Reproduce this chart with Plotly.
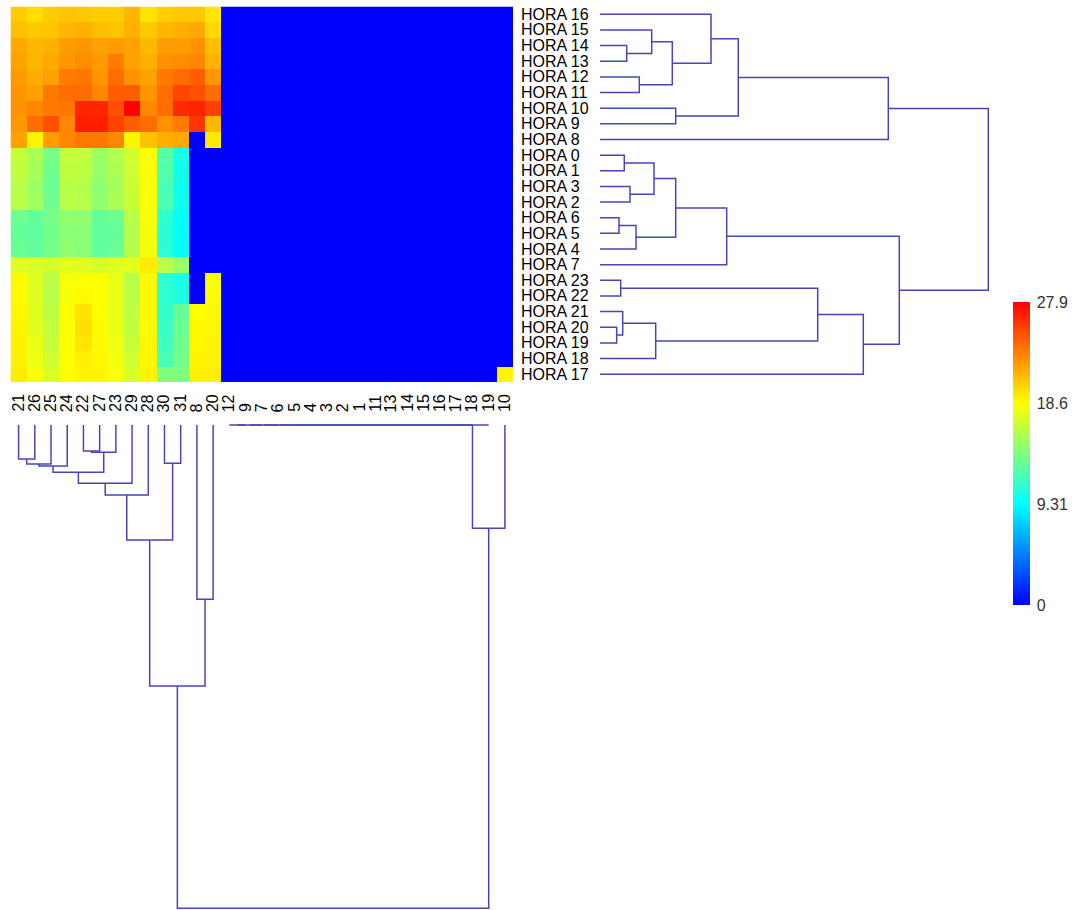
import plotly.graph_objects as go

W, H = 1083, 910

# ---------------- data ----------------
hour_labels = ["HORA 16", "HORA 15", "HORA 14", "HORA 13", "HORA 12", "HORA 11",
               "HORA 10", "HORA 9", "HORA 8", "HORA 0", "HORA 1", "HORA 3",
               "HORA 2", "HORA 6", "HORA 5", "HORA 4", "HORA 7", "HORA 23",
               "HORA 22", "HORA 21", "HORA 20", "HORA 19", "HORA 18", "HORA 17"]

day_labels = ["21", "26", "25", "24", "22", "27", "23", "29", "28", "30", "31", "8", "20",
              "12", "9", "7", "6", "5", "4", "3", "2", "1", "11", "13", "14", "15", "16",
              "17", "18", "19", "10"]

# one row per hour (display order), one value per day (display order)
values = [
    [20.5, 19.8, 20.5, 20.8, 20.6, 20.5, 20.4, 21.3, 19.6, 20.4, 20.6, 20.6, 19.5, 0, 0, 0, 0, 0, 0, 0, 0, 0, 0, 0, 0, 0, 0, 0, 0, 0, 0],
    [20.9, 20.6, 20.7, 21.3, 21.5, 21.0, 20.8, 21.5, 20.6, 21.2, 21.5, 21.8, 20.0, 0, 0, 0, 0, 0, 0, 0, 0, 0, 0, 0, 0, 0, 0, 0, 0, 0, 0],
    [21.8, 21.2, 21.5, 22.2, 22.5, 22.0, 22.2, 22.0, 21.2, 22.2, 22.2, 22.6, 21.0, 0, 0, 0, 0, 0, 0, 0, 0, 0, 0, 0, 0, 0, 0, 0, 0, 0, 0],
    [22.0, 21.3, 21.8, 22.4, 22.8, 22.3, 23.4, 22.0, 21.5, 22.6, 22.8, 23.0, 21.4, 0, 0, 0, 0, 0, 0, 0, 0, 0, 0, 0, 0, 0, 0, 0, 0, 0, 0],
    [22.3, 21.6, 22.0, 23.4, 23.6, 22.5, 24.0, 22.6, 22.0, 23.5, 24.0, 24.5, 22.4, 0, 0, 0, 0, 0, 0, 0, 0, 0, 0, 0, 0, 0, 0, 0, 0, 0, 0],
    [22.5, 22.0, 23.5, 24.0, 24.0, 23.0, 24.5, 24.5, 22.5, 24.0, 25.4, 25.0, 24.0, 0, 0, 0, 0, 0, 0, 0, 0, 0, 0, 0, 0, 0, 0, 0, 0, 0, 0],
    [22.6, 23.0, 23.5, 23.6, 26.5, 26.5, 25.0, 27.9, 23.0, 24.0, 26.4, 26.6, 25.6, 0, 0, 0, 0, 0, 0, 0, 0, 0, 0, 0, 0, 0, 0, 0, 0, 0, 0],
    [22.4, 24.0, 25.0, 23.0, 26.8, 26.8, 25.5, 24.5, 24.0, 22.6, 23.4, 26.0, 21.2, 0, 0, 0, 0, 0, 0, 0, 0, 0, 0, 0, 0, 0, 0, 0, 0, 0, 0],
    [22.0, 19.0, 22.2, 23.0, 23.5, 23.5, 23.0, 19.0, 20.8, 21.6, 21.8, 0, 19.4, 0, 0, 0, 0, 0, 0, 0, 0, 0, 0, 0, 0, 0, 0, 0, 0, 0, 0],
    [16.5, 15.5, 13.6, 16.5, 16.4, 15.0, 15.8, 17.0, 18.6, 12.5, 10.2, 0, 0, 0, 0, 0, 0, 0, 0, 0, 0, 0, 0, 0, 0, 0, 0, 0, 0, 0, 0],
    [16.3, 15.3, 13.4, 16.3, 16.2, 14.8, 15.6, 16.8, 18.6, 12.3, 10.0, 0, 0, 0, 0, 0, 0, 0, 0, 0, 0, 0, 0, 0, 0, 0, 0, 0, 0, 0, 0],
    [16.0, 15.0, 13.2, 16.0, 15.8, 14.5, 15.3, 16.6, 18.5, 12.0, 9.8, 0, 0, 0, 0, 0, 0, 0, 0, 0, 0, 0, 0, 0, 0, 0, 0, 0, 0, 0, 0],
    [16.1, 15.1, 13.4, 16.1, 15.9, 14.6, 15.4, 16.6, 18.5, 12.1, 9.9, 0, 0, 0, 0, 0, 0, 0, 0, 0, 0, 0, 0, 0, 0, 0, 0, 0, 0, 0, 0],
    [13.2, 13.0, 13.6, 14.6, 14.5, 13.0, 13.2, 16.0, 18.4, 11.0, 9.4, 0, 0, 0, 0, 0, 0, 0, 0, 0, 0, 0, 0, 0, 0, 0, 0, 0, 0, 0, 0],
    [13.0, 12.8, 13.5, 14.4, 14.3, 12.8, 13.0, 15.8, 18.3, 10.8, 9.3, 0, 0, 0, 0, 0, 0, 0, 0, 0, 0, 0, 0, 0, 0, 0, 0, 0, 0, 0, 0],
    [13.1, 12.9, 13.6, 14.5, 14.4, 12.9, 13.1, 15.9, 18.3, 10.9, 9.4, 0, 0, 0, 0, 0, 0, 0, 0, 0, 0, 0, 0, 0, 0, 0, 0, 0, 0, 0, 0],
    [17.4, 17.2, 17.0, 17.6, 17.4, 17.0, 17.4, 17.6, 19.3, 16.0, 14.8, 0, 0, 0, 0, 0, 0, 0, 0, 0, 0, 0, 0, 0, 0, 0, 0, 0, 0, 0, 0],
    [18.8, 17.4, 16.0, 18.4, 18.6, 18.6, 17.8, 16.0, 18.8, 11.0, 10.2, 0, 18.6, 0, 0, 0, 0, 0, 0, 0, 0, 0, 0, 0, 0, 0, 0, 0, 0, 0, 0],
    [18.8, 17.4, 16.0, 18.4, 18.8, 18.6, 17.8, 16.0, 18.8, 11.0, 10.4, 0, 18.7, 0, 0, 0, 0, 0, 0, 0, 0, 0, 0, 0, 0, 0, 0, 0, 0, 0, 0],
    [18.9, 17.5, 16.2, 18.5, 19.6, 18.7, 17.8, 16.2, 18.8, 11.2, 13.0, 18.6, 18.8, 0, 0, 0, 0, 0, 0, 0, 0, 0, 0, 0, 0, 0, 0, 0, 0, 0, 0],
    [19.0, 17.6, 16.4, 18.5, 19.8, 18.8, 17.9, 16.3, 18.8, 11.4, 13.2, 18.8, 18.9, 0, 0, 0, 0, 0, 0, 0, 0, 0, 0, 0, 0, 0, 0, 0, 0, 0, 0],
    [19.1, 17.8, 16.5, 18.6, 19.6, 18.8, 18.0, 16.5, 18.9, 11.6, 13.4, 18.9, 19.0, 0, 0, 0, 0, 0, 0, 0, 0, 0, 0, 0, 0, 0, 0, 0, 0, 0, 0],
    [19.2, 18.0, 16.8, 18.6, 19.2, 18.9, 18.2, 16.8, 18.9, 12.0, 13.6, 19.0, 19.0, 0, 0, 0, 0, 0, 0, 0, 0, 0, 0, 0, 0, 0, 0, 0, 0, 0, 0],
    [19.3, 18.3, 17.2, 18.7, 19.0, 19.0, 18.4, 17.2, 19.0, 14.0, 14.0, 19.2, 19.2, 0, 0, 0, 0, 0, 0, 0, 0, 0, 0, 0, 0, 0, 0, 0, 0, 0, 19.0],
]

z_max = 27.93
colorbar_ticks = ["0", "9.31", "18.6", "27.9"]

# hierarchical clustering of hours: (merge height, left, right)
row_tree = (388.3,
            (288.3,
             (138.3,
              (111.0, "HORA 16",
               (72.3,
                (51.7, "HORA 15", (26.7, "HORA 14", "HORA 13")),
                (39.3, "HORA 12", "HORA 11"))),
              (75.7, "HORA 10", "HORA 9")),
             "HORA 8"),
            (299.3,
             (126.7,
              (75.7,
               (54.0, (24.3, "HORA 0", "HORA 1"), (30.0, "HORA 3", "HORA 2")),
               (36.0, (19.0, "HORA 6", "HORA 5"), "HORA 4")),
              "HORA 7"),
             (263.3,
              (217.7,
               (20.7, "HORA 23", "HORA 22"),
               (55.7, (22.7, "HORA 21", (16.7, "HORA 20", "HORA 19")), "HORA 18")),
              "HORA 17")))

# days with identical (all-zero) profiles merge at height 0, one after another
zero_days = ["12", "9", "7", "6", "5", "4", "3", "2", "1", "11", "13", "14", "15",
             "16", "17", "18", "19"]
zero_heights = [0.0] * (len(zero_days) - 1)
zero_cluster = zero_days[0]
for d, hgt in zip(zero_days[1:], zero_heights):
    zero_cluster = (hgt, zero_cluster, d)

col_tree = (483.3,
            (261.0,
             (115.0,
              (70.0,
               (58.3,
                (47.3,
                 (41.0, (39.0, (34.0, "21", "26"), "25"), "24"),
                 (27.3, (26.0, "22", "27"), "23")),
                "29"),
               "28"),
              (38.3, "30", "31")),
             (174.3, "8", "20")),
            (103.3, zero_cluster, "10"))


# ---------------- dendrogram geometry from the trees ----------------
def walk(node, pos_of, segs):
    if isinstance(node, str):
        return pos_of[node], 0.0
    h, left, right = node
    pl, hl = walk(left, pos_of, segs)
    pr, hr = walk(right, pos_of, segs)
    segs.append([(pl, hl), (pl, h), (pr, h), (pr, hr)])
    return (pl + pr) / 2.0, h


row_segs, col_segs = [], []
walk(row_tree, {lab: i for i, lab in enumerate(hour_labels)}, row_segs)
walk(col_tree, {lab: i for i, lab in enumerate(day_labels)}, col_segs)

rx, ry = [], []
for s in row_segs:
    for p, h in s:
        rx.append(h)
        ry.append(p)
    rx.append(None)
    ry.append(None)

cx, cy = [], []
for s in col_segs:
    for p, h in s:
        cx.append(p)
        cy.append(h)
    cx.append(None)
    cy.append(None)

# ---------------- figure ----------------
jet = [[0.0, "#0000ff"], [1 / 3, "#00ffff"], [2 / 3, "#ffff00"], [1.0, "#ff0000"]]
line_col = "#4646b8"
font_fam = "Arial, 'Liberation Sans', sans-serif"

fig = go.Figure()

fig.add_trace(go.Heatmap(
    z=values, x=list(range(len(day_labels))), y=list(range(len(hour_labels))),
    zmin=0, zmax=z_max, colorscale=jet, xaxis="x", yaxis="y",
    colorbar=dict(
        x=1013 / W, xanchor="left", xpad=0, xref="paper",
        y=1 - 605 / H, yanchor="bottom", ypad=0, yref="paper",
        len=303, lenmode="pixels", thickness=17, outlinewidth=0,
        tickvals=[z_max * i / 3 for i in range(4)], ticktext=colorbar_ticks,
        ticks="outside", ticklen=4, tickcolor="rgba(0,0,0,0)",
        tickfont=dict(family=font_fam, size=16, color="#333333"),
    ),
))

fig.add_trace(go.Scatter(x=rx, y=ry, mode="lines", xaxis="x2", yaxis="y2",
                         line=dict(color=line_col, width=1.5), hoverinfo="skip",
                         showlegend=False))
fig.add_trace(go.Scatter(x=cx, y=cy, mode="lines", xaxis="x3", yaxis="y3",
                         line=dict(color=line_col, width=1.5), hoverinfo="skip",
                         showlegend=False))

hm_y_dom = [1 - 382 / H, 1 - 6.5 / H]
hm_x_dom = [10.5 / W, 513 / W]
nrow, ncol = len(hour_labels), len(day_labels)

ax_off = dict(visible=False, showgrid=False, zeroline=False, fixedrange=True)
fig.update_layout(
    width=W, height=H, margin=dict(l=0, r=0, t=0, b=0),
    paper_bgcolor="white", plot_bgcolor="white", showlegend=False,
    xaxis=dict(domain=hm_x_dom, range=[-0.5, ncol - 0.5], anchor="y", **ax_off),
    yaxis=dict(domain=hm_y_dom, range=[nrow - 0.5, -0.5], anchor="x", **ax_off),
    xaxis2=dict(domain=[598 / W, 991.3 / W], range=[-2, 391.3], anchor="y2", **ax_off),
    yaxis2=dict(domain=hm_y_dom, range=[nrow - 0.5, -0.5], anchor="x2", **ax_off),
    xaxis3=dict(domain=hm_x_dom, range=[-0.5, ncol - 0.5], anchor="y3", **ax_off),
    yaxis3=dict(domain=[0, 1 - 423 / H], range=[485, -2], anchor="x3", **ax_off),
)

annots = []
for i, lab in enumerate(hour_labels):
    annots.append(dict(text=lab, x=521 / W, xref="paper", xanchor="left",
                       y=i, yref="y", yanchor="middle", showarrow=False,
                       borderpad=0, borderwidth=0,
                       font=dict(family=font_fam, size=16, color="black")))
for j, lab in enumerate(day_labels):
    annots.append(dict(text=lab, x=j, xref="x", xanchor="center",
                       y=1 - 412 / H, yref="paper", yanchor="bottom",
                       textangle=-90, showarrow=False, borderpad=0, borderwidth=0,
                       font=dict(family=font_fam, size=16, color="black")))
fig.update_layout(annotations=annots)

fig.write_html("out.html", config={"displayModeBar": False},
               post_script="document.body.style.margin='0px';")
